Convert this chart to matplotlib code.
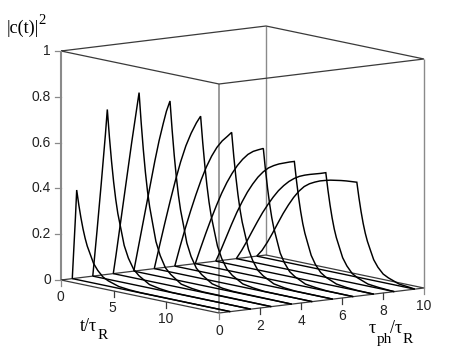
import numpy as np
import matplotlib
matplotlib.use("Agg")
import matplotlib.pyplot as plt

# ---- data ----
tau_positions = [0.55, 1.55, 2.55, 3.55, 4.55, 5.55, 6.55, 7.55, 8.55, 9.55]
z_ticks = [0, 0.2, 0.4, 0.6, 0.8, 1]
z_tick_labels = ["0", "0.2", "0.4", "0.6", "0.8", "1"]
t_ticks = [0, 5, 10]
tau_ticks = [0, 2, 4, 6, 8, 10]

rise_t_1 = [0, .1, .2, .3, .42]
rise_z_1 = [0, .09, .18, .27, .391]
rise_t_2 = [0, .2, .4, .6, .8, 1, 1.2, 1.38]
rise_z_2 = [0, .10, .20, .305, .41, .52, .63, .741]
rise_t_3 = [0, .25, .5, .75, 1, 1.25, 1.5, 1.75, 2, 2.25, 2.45]
rise_z_3 = [0, .08, .165, .25, .335, .42, .505, .59, .67, .75, .814]
rise_t_4 = [0, .4, .8, 1.2, 1.6, 2, 2.4, 2.8, 3.1, 3.44]
rise_z_4 = [0, .10, .20, .30, .40, .50, .592, .672, .728, .776]
rise_t_5 = [0, .5, 1, 1.5, 2, 2.5, 3, 3.5, 4, 4.4]
rise_z_5 = [0, .105, .208, .308, .403, .49, .565, .625, .675, .708]
rise_t_6 = [0, .5, 1, 1.5, 2, 2.5, 3, 3.5, 4, 4.5, 5, 5.4]
rise_z_6 = [0, .09, .175, .255, .33, .40, .462, .514, .557, .590, .615, .636]
rise_t_7 = [0, .5, 1, 1.5, 2, 2.5, 3, 3.5, 4, 4.5, 5, 5.5, 6, 6.46]
rise_z_7 = [0, .072, .142, .209, .272, .331, .383, .428, .467, .499, .525, .543, .555, .565]
rise_t_8 = [0, .5, 1, 1.5, 2, 2.5, 3, 3.5, 4, 4.5, 5, 5.5, 6, 6.5, 7, 7.46]
rise_z_8 = [0, .055, .115, .175, .232, .283, .33, .37, .405, .433, .455, .47, .482, .491, .50, .507]
rise_t_9 = [0, .5, 1, 1.5, 2, 2.5, 3, 3.5, 4, 4.5, 5, 5.5, 6, 6.5, 7, 7.5, 8, 8.5]
rise_z_9 = [0, .04, .085, .133, .18, .225, .265, .302, .335, .362, .385, .403, .417, .427, .435, .442, .449, .457]
rise_t_10 = [0, .5, 1, 1.5, 2, 2.5, 3, 3.5, 4, 4.5, 5, 5.5, 6, 6.5, 7, 7.5, 8, 8.5, 9, 9.5]
rise_z_10 = [0, .03, .07, .115, .163, .21, .252, .29, .322, .347, .364, .376, .386, .393, .399, .403, .407, .410, .412, .414]

fall_after = [.2, .4, .6, .8, 1, 1.3, 1.6, 2, 2.5, 3, 4, 5, 6]
fall_z_1 = [.328, .274, .227, .188, .156, .121, .086, .059, .035, .023, .008, .003, .001]
fall_z_2 = [.622, .519, .430, .356, .296, .230, .163, .111, .067, .044, .015, .006, .001]
fall_z_3 = [.684, .570, .472, .391, .326, .252, .179, .122, .073, .049, .016, .007, .002]
fall_z_4 = [.652, .543, .450, .372, .310, .241, .171, .116, .070, .047, .016, .006, .002]
fall_z_5 = [.595, .496, .411, .340, .283, .219, .156, .106, .064, .042, .014, .006, .001]
fall_z_6 = [.534, .445, .369, .305, .254, .197, .140, .095, .057, .038, .013, .005, .001]
fall_z_7 = [.475, .396, .328, .271, .226, .175, .124, .085, .051, .034, .011, .005, .001]
fall_z_8 = [.426, .355, .294, .243, .203, .157, .112, .076, .046, .030, .010, .004, .001]
fall_z_9 = [.384, .320, .265, .219, .183, .142, .101, .069, .041, .027, .009, .004, .001]
fall_z_10 = [.348, .290, .240, .199, .166, .128, .091, .062, .037, .025, .008, .003, .001]

rises = [(rise_t_1, rise_z_1), (rise_t_2, rise_z_2), (rise_t_3, rise_z_3), (rise_t_4, rise_z_4),
         (rise_t_5, rise_z_5), (rise_t_6, rise_z_6), (rise_t_7, rise_z_7), (rise_t_8, rise_z_8),
         (rise_t_9, rise_z_9), (rise_t_10, rise_z_10)]
falls = [fall_z_1, fall_z_2, fall_z_3, fall_z_4, fall_z_5, fall_z_6, fall_z_7, fall_z_8, fall_z_9, fall_z_10]

T_MAX, TAU_MAX = 15.0, 10.0

W, H = 469, 353
fig = plt.figure(figsize=(W / 100, H / 100), dpi=100)
ax = fig.add_axes([0, 0, 1, 1])
ax.set_xlim(0, W)
ax.set_ylim(H, 0)
ax.axis("off")


def project(t, tau, z):
    """Parallel projection of the (t, tau, z) box onto the figure."""
    t, tau, z = np.asarray(t, float), np.asarray(tau, float), np.asarray(z, float)
    x = 61 + t * 158 / 15 + tau * 20.5
    y = 280 + t * 33 / 15 - tau * 2.5 - z * 229
    return x, y


def line3(t, tau, z, color="black", lw=1.0):
    x, y = project(t, tau, z)
    ax.plot(x, y, color=color, lw=lw, solid_capstyle="butt", solid_joinstyle="miter")


GREY = "#8a8a8a"
EDGE = "#3a3a3a"

# verticals
line3([0, 0], [0, 0], [0, 1], GREY, 1.5)
line3([T_MAX] * 2, [0, 0], [0, 1], GREY, 1.2)
line3([0, 0], [TAU_MAX] * 2, [0, 1], GREY, 1.0)
line3([T_MAX] * 2, [TAU_MAX] * 2, [0, 1], GREY, 1.0)

# box edges
for zv in (0, 1):
    line3([0, T_MAX, T_MAX, 0, 0], [0, 0, TAU_MAX, TAU_MAX, 0], [zv] * 5, EDGE, 0.9)

# floor lines and curves
for tau, (rt, rz), fz in zip(tau_positions, rises, falls):
    line3([0, T_MAX], [tau, tau], [0, 0], "black", 1.0)
    t = list(rt) + [rt[-1] + s for s in fall_after]
    z = list(rz) + list(fz)
    keep = [i for i, v in enumerate(t) if v <= T_MAX]
    t = [t[i] for i in keep] + [T_MAX]
    z = [z[i] for i in keep] + [0]
    line3(t, [tau] * len(t), z, "black", 1.05)

SANS = "Liberation Sans"
SERIF = "Liberation Serif"
TICK = "#222222"

# z ticks
for v, lab in zip(z_ticks, z_tick_labels):
    x, y = project(0, 0, v)
    ax.plot([x - 6, x], [y, y], color=GREY, lw=0.9)
    ax.text(x - 10, y, lab, ha="right", va="center", family=SANS, fontsize=10, color=TICK)

# t ticks
for v in t_ticks:
    x, y = project(v, 0, 0)
    ax.plot([x, x], [y, y + 6], color=GREY if v == 0 else EDGE, lw=0.9)
    ax.text(x - 1, y + 17, str(v), ha="center", va="center", family=SANS, fontsize=10, color=TICK)

# tau ticks
for v in tau_ticks:
    x, y = project(T_MAX, v, 0)
    ax.plot([x, x], [y, y + 6], color=GREY if v in (0, 10) else EDGE, lw=0.9)
    ax.text(x, y + 18, str(v), ha="center", va="center", family=SANS, fontsize=10, color=TICK)

# axis labels
ax.text(7, 33, "|c(t)|", family=SERIF, fontsize=13, va="baseline", ha="left")
ax.text(38, 24, "2", family=SERIF, fontsize=10.5, va="baseline", ha="left")
ax.text(80, 331, "t/τ", family=SERIF, fontsize=13, va="baseline", ha="left")
ax.text(98, 339, "R", family=SERIF, fontsize=11, va="baseline", ha="left")
ax.text(369, 333, "τ", family=SERIF, fontsize=13, va="baseline", ha="left")
ax.text(377, 343, "ph", family=SERIF, fontsize=11, va="baseline", ha="left")
ax.text(390, 333, "/τ", family=SERIF, fontsize=13, va="baseline", ha="left")
ax.text(403, 343, "R", family=SERIF, fontsize=11, va="baseline", ha="left")

fig.savefig("out.png", dpi=100)
